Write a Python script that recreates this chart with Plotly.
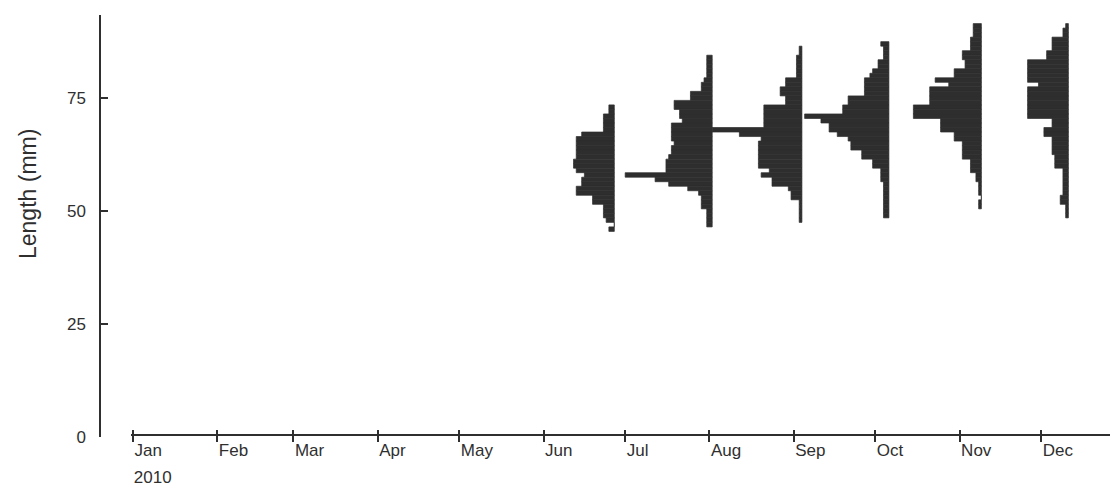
import plotly.graph_objects as go

# ---------------- data ----------------
month_ticks = ["2010-%02d-01" % m for m in range(1, 13)]
month_names = ["Jan", "Feb", "Mar", "Apr", "May", "Jun",
               "Jul", "Aug", "Sep", "Oct", "Nov", "Dec"]
year_text = ["2010"] + [""] * 11

sample_dates = ["2010-06-27", "2010-08-02", "2010-09-04",
                "2010-10-06", "2010-11-09", "2010-12-11"]

# length bins (mm), top -> bottom, and frequencies
jun_len = list(range(73, 45, -1))
jun_freq = [2, 2, 4, 4, 4, 4, 12, 14, 14, 14, 14, 14, 15, 15, 14, 11, 12, 12,
            14, 14, 8, 8, 4, 4, 4, 3, 0, 2]

aug_len = list(range(84, 46, -1))
aug_freq = [2, 2, 2, 2, 2, 3, 4, 4, 8, 8, 14, 14, 12, 12, 11, 15, 15, 15, 15,
            14, 15, 15, 16, 17, 17, 17, 32, 21, 16, 9, 5, 4, 4, 4, 2, 2, 2, 2]

sep_len = list(range(86, 47, -1))
sep_freq = [1, 1, 2, 2, 2, 2, 2, 6, 6, 8, 8, 6, 6, 14, 14, 14, 14, 14, 33, 23,
            15, 16, 16, 16, 16, 16, 16, 12, 15, 11, 11, 5, 4, 4, 1, 1, 1, 1, 1]

oct_len = list(range(87, 48, -1))
oct_freq = [3, 2, 2, 2, 4, 4, 6, 7, 9, 9, 9, 9, 15, 15, 17, 17, 31, 25, 22, 22,
            19, 15, 14, 14, 10, 10, 6, 6, 3, 3, 3, 2, 2, 2, 2, 2, 2, 2, 2]

nov_len = list(range(91, 50, -1))
nov_freq = [3, 3, 3, 4, 4, 4, 7, 7, 6, 6, 10, 10, 17, 12, 19, 19, 19, 19, 25,
            25, 25, 15, 15, 15, 10, 10, 7, 7, 7, 7, 4, 4, 4, 2, 2, 1, 1, 1, 0,
            1, 1]

dec_len = list(range(91, 48, -1))
dec_freq = [1, 2, 2, 6, 6, 6, 8, 8, 15, 15, 15, 15, 15, 11, 15, 15, 15, 15, 15,
            15, 15, 6, 6, 9, 9, 6, 6, 6, 6, 5, 5, 5, 2, 2, 2, 2, 2, 2, 3, 3, 1,
            1, 1]

samples = [(jun_len, jun_freq), (aug_len, aug_freq), (sep_len, sep_freq),
           (oct_len, oct_freq), (nov_len, nov_freq), (dec_len, dec_freq)]

# ---------------- style ----------------
INK = "#2f2f2f"
BAR = "#2e2e2e"
FONT = "Liberation Sans, Arial, sans-serif"
MS_PER_UNIT = 86400000  # one frequency unit drawn as one day of width

fig = go.Figure()
for i, (date, (lens, freqs)) in enumerate(zip(sample_dates, samples)):
    fig.add_trace(go.Bar(
        y=lens,
        x=[-f * MS_PER_UNIT for f in freqs],
        base=[date] * len(lens),
        orientation="h",
        width=1,
        marker=dict(color=BAR, line=dict(width=0.7, color=BAR)),
        xaxis="x2" if i == 0 else "x",
        yaxis="y",
        hoverinfo="skip",
        showlegend=False,
    ))

x_range = ["2009-12-31 06:00", "2010-12-29 06:00"]
x_dom = [31 / 1018, 1]

# page body has an 8px margin: the figure is sized/offset to compensate
fig.update_layout(
    width=1110, height=494,
    margin=dict(l=92, r=0, t=7, b=65, autoexpand=False),
    plot_bgcolor="white", paper_bgcolor="white",
    barmode="overlay",
    showlegend=False,
    font=dict(family=FONT, color=INK, size=17),
    xaxis=dict(
        type="date", range=x_range, domain=x_dom,
        anchor="free", position=0.005,
        tickmode="array", tickvals=month_ticks, ticktext=month_names,
        ticks="outside", ticklen=6, tickwidth=1.5, tickcolor=INK,
        ticklabelposition="outside right",
        showline=True, linecolor=INK, linewidth=1.5,
        showgrid=False, zeroline=False,
        tickfont=dict(family=FONT, size=17, color=INK),
    ),
    xaxis2=dict(
        type="date", range=x_range, domain=x_dom,
        anchor="free", position=0.005, overlaying="x",
        tickmode="array", tickvals=month_ticks, ticktext=year_text,
        ticks="inside", ticklen=5, tickwidth=1.5, tickcolor=INK,
        ticklabelposition="outside right", ticklabelstandoff=30,
        showline=False, showgrid=False, zeroline=False,
        tickfont=dict(family=FONT, size=17, color=INK),
    ),
    yaxis=dict(
        range=[0, 93.4], domain=[0, 1],
        anchor="free", position=0,
        tickmode="array", tickvals=[0, 25, 50, 75],
        ticks="inside", ticklen=7, tickwidth=1.5, tickcolor=INK,
        ticklabelstandoff=10,
        showline=True, linecolor=INK, linewidth=1.5,
        showgrid=False, zeroline=False,
        tickfont=dict(family=FONT, size=17, color=INK),
    ),
    annotations=[dict(
        text="Length (mm)", textangle=-90,
        xref="paper", yref="paper", x=0, y=(437 - 194) / 422,
        xanchor="center", yanchor="middle", xshift=-72, showarrow=False,
        font=dict(family=FONT, size=23, color=INK),
    )],
)

fig.write_html("out.html")
